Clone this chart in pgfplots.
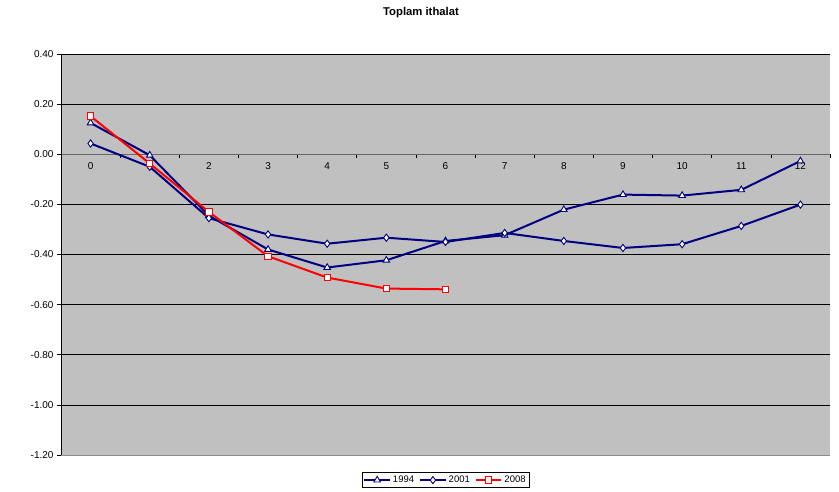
\documentclass[border=0pt]{standalone}
\usepackage{pgfplots}
\pgfplotsset{compat=1.18}
\usepackage{fontspec}
\setmainfont{Liberation Sans}
\definecolor{plotbg}{HTML}{C0C0C0}
\definecolor{navy}{HTML}{000080}
\begin{document}
\begin{tikzpicture}
\path[use as bounding box] (0,0) rectangle (839pt,492pt);
\node[font=\bfseries\fontsize{11.3}{13}\selectfont] at (421pt,479pt) {Toplam ithalat};
\begin{axis}[
  at={(61pt,37pt)}, anchor=south west,
  scale only axis, width=769pt, height=401pt,
  xmin=-0.5, xmax=12.5, ymin=-1.2, ymax=0.4,
  axis x line*=middle, axis y line*=left,
  axis line style={black, line width=0.8pt, -},
  x axis line style={draw=black!60, line width=1.3pt},
  axis background/.style={fill=plotbg},
  xtick={0,...,12},
  major x tick style={draw=none},
  minor xtick={-0.5,0.5,...,12.5},
  minor x tick style={black, line width=0.6pt},
  minor tick length=4pt,
  x tick label style={yshift=-1pt},
  /pgf/number format/assume math mode=true,
  ytick={-1.2,-1,-0.8,-0.6,-0.4,-0.2,0,0.2,0.4},
  yticklabels={-1.20,-1.00,-0.80,-0.60,-0.40,-0.20,0.00,0.20,0.40},
  y tick style={black, line width=0.6pt},
  major tick length=4pt,
  tick align=outside,
  ymajorgrids, grid style={black, line width=0.7pt},
  tick label style={font=\fontsize{10}{12}\selectfont},
  legend columns=3,
  legend style={at={(0.5,-0.043)}, anchor=north, draw=black, line width=0.6pt,
    font=\fontsize{9.5}{11}\selectfont, inner sep=1.5pt,
    /tikz/every even column/.append style={column sep=3pt}},
  legend image code/.code={\draw[mark repeat=2,mark phase=2] plot coordinates {(0cm,0cm) (0.45cm,0cm) (0.9cm,0cm)};},
  clip=false,
]
\draw[draw=black!45, line width=0.8pt] (rel axis cs:0,0) -- (rel axis cs:1,0);
\addplot[navy, line width=2pt, mark=triangle*, mark size=3.8pt,
  mark options={fill=white, draw=navy, line width=0.9pt}] coordinates {
(0,0.125) (1,-0.004) (2,-0.245) (3,-0.380) (4,-0.452) (5,-0.423) (6,-0.346)
(7,-0.323) (8,-0.221) (9,-0.161) (10,-0.165) (11,-0.142) (12,-0.027)};
\addlegendentry{1994}
\addplot[navy, line width=2pt, mark=diamond*, mark size=3.6pt,
  mark options={fill=white, draw=navy, line width=0.9pt}] coordinates {
(0,0.043) (1,-0.050) (2,-0.255) (3,-0.320) (4,-0.357) (5,-0.333) (6,-0.350)
(7,-0.314) (8,-0.346) (9,-0.374) (10,-0.359) (11,-0.286) (12,-0.201)};
\addlegendentry{2001}
\addplot[red, line width=2pt, mark=square*, mark size=3.2pt,
  mark options={fill=white, draw=red, line width=0.9pt}] coordinates {
(0,0.152) (1,-0.037) (2,-0.230) (3,-0.407) (4,-0.492) (5,-0.536) (6,-0.539)};
\addlegendentry{2008}
\end{axis}
\end{tikzpicture}
\end{document}
